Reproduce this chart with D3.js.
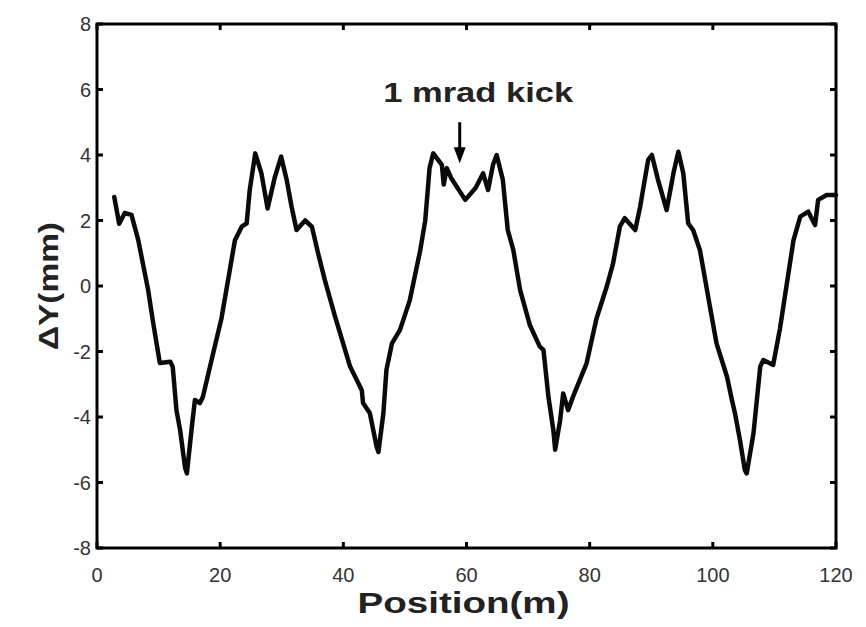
<!DOCTYPE html>
<html>
<head>
<meta charset="utf-8">
<script src="https://cdn.jsdelivr.net/npm/d3@7"></script>
<style>
  body { margin: 0; background: #fff; }
  svg { display: block; font-family: "Liberation Sans", Arial, sans-serif; }
</style>
</head>
<body>
<div id="chart"></div>
<script>
// orbit difference, position in m, dy in mm
const positions = [2.8, 3.6, 4.5, 5.6, 6.7, 8.3, 9.1, 10.2, 11.9, 12.3, 12.9, 13.5, 14.3, 14.6, 15.4, 15.9, 16.7, 17.2, 18.6, 20.2,
    22.4, 23.5, 24.3, 24.8, 25.7, 26.7, 27.7, 28.9, 29.9, 30.8, 31.6, 32.4, 33.8, 34.9, 35.9, 37.0, 38.6, 41.1, 43.0, 43.2,
    44.3, 45.4, 45.7, 46.5, 47.0, 47.9, 49.2, 50.8, 52.5, 53.3, 54.0, 54.6, 56.0, 56.3, 56.8, 57.5, 59.8, 61.5, 62.7, 63.5,
    64.3, 64.9, 65.9, 66.7, 67.6, 68.7, 70.3, 71.9, 72.5, 73.3, 74.1, 74.4, 75.2, 75.7, 76.5, 77.3, 79.5, 81.1, 82.8, 83.8,
    84.9, 85.7, 87.4, 88.2, 89.5, 90.1, 91.1, 92.5, 93.6, 94.4, 95.2, 96.0, 96.8, 97.9, 99.5, 100.6, 102.3, 103.1, 103.6, 104.4,
    105.2, 105.5, 106.6, 107.7, 108.2, 109.8, 110.9, 113.1, 114.2, 115.5, 116.6, 117.1, 118.5, 120];
const deltaY = [2.72, 1.9, 2.23, 2.17, 1.4, -0.12, -1.1, -2.35, -2.31, -2.47, -3.79, -4.4, -5.55, -5.72, -4.3, -3.48, -3.58, -3.38, -2.26, -1.0,
    1.4, 1.81, 1.91, 2.93, 4.05, 3.44, 2.37, 3.34, 3.95, 3.24, 2.42, 1.71, 2.0, 1.81, 1.0, 0.18, -0.9, -2.46, -3.18, -3.57,
    -3.88, -4.9, -5.07, -3.89, -2.56, -1.75, -1.34, -0.43, 1.1, 2.0, 3.6, 4.05, 3.7, 3.1, 3.6, 3.3, 2.63, 3.0, 3.44, 2.93,
    3.7, 4.0, 3.24, 1.71, 1.1, -0.12, -1.2, -1.85, -1.95, -3.38, -4.4, -5.0, -4.1, -3.28, -3.79, -3.38, -2.36, -1.0, 0, 0.69,
    1.81, 2.07, 1.71, 2.42, 3.85, 4.0, 3.24, 2.32, 3.44, 4.1, 3.44, 1.91, 1.71, 1.1, -0.6, -1.75, -2.77, -3.48, -3.89, -4.7,
    -5.62, -5.72, -4.5, -2.46, -2.26, -2.41, -1.3, 1.4, 2.12, 2.27, 1.86, 2.63, 2.78, 2.78];

const xTicks = [0, 20, 40, 60, 80, 100, 120];
const yTicks = [-8, -6, -4, -2, 0, 2, 4, 6, 8];

const xLabel = "Position(m)";
const yLabel = "\u0394Y(mm)";
const kickLabel = "1 mrad kick";
const kickAt = { x: 58.9, tip: 3.75, tail: 5.0, textX: 61.9, textY: 5.62 };

const width = 866, height = 627;
const svg = d3.select("#chart").append("svg").attr("width", width).attr("height", height);
const x = d3.scaleLinear().domain([0, 120]).range([97, 836]);
const y = d3.scaleLinear().domain([-8, 8]).range([548, 24]);

// frame
svg.append("rect")
    .attr("x", x(0)).attr("y", y(8))
    .attr("width", x(120) - x(0)).attr("height", y(-8) - y(8))
    .attr("fill", "none").attr("stroke", "#000").attr("stroke-width", 3);

// inward ticks on all four sides
const tickLen = 6;
svg.selectAll(".xb").data(xTicks).join("line").attr("class", "xb")
    .attr("x1", d => x(d)).attr("x2", d => x(d))
    .attr("y1", y(-8)).attr("y2", y(-8) - tickLen)
    .attr("stroke", "#000").attr("stroke-width", 3);
svg.selectAll(".xt").data(xTicks).join("line").attr("class", "xt")
    .attr("x1", d => x(d)).attr("x2", d => x(d))
    .attr("y1", y(8)).attr("y2", y(8) + tickLen)
    .attr("stroke", "#000").attr("stroke-width", 3);
svg.selectAll(".yl").data(yTicks).join("line").attr("class", "yl")
    .attr("x1", x(0)).attr("x2", x(0) + tickLen)
    .attr("y1", d => y(d)).attr("y2", d => y(d))
    .attr("stroke", "#000").attr("stroke-width", 3);
svg.selectAll(".yr").data(yTicks).join("line").attr("class", "yr")
    .attr("x1", x(120)).attr("x2", x(120) - tickLen)
    .attr("y1", d => y(d)).attr("y2", d => y(d))
    .attr("stroke", "#000").attr("stroke-width", 3);

// tick labels
svg.selectAll(".xlab").data(xTicks).join("text").attr("class", "xlab")
    .attr("x", d => x(d)).attr("y", y(-8) + 34)
    .attr("text-anchor", "middle")
    .attr("font-size", 20).attr("fill", "#333")
    .text(d => String(d));
svg.selectAll(".ylab").data(yTicks).join("text").attr("class", "ylab")
    .attr("x", x(0) - 6).attr("y", d => y(d) + 7)
    .attr("text-anchor", "end")
    .attr("font-size", 20).attr("fill", "#333")
    .text(d => String(d));

// orbit
svg.append("path")
    .datum(deltaY)
    .attr("fill", "none")
    .attr("stroke", "#0a0a0a")
    .attr("stroke-width", 4.5)
    .attr("stroke-linejoin", "round")
    .attr("stroke-linecap", "round")
    .attr("d", d3.line().x((d, i) => x(positions[i])).y(d => y(d)));

// annotation
svg.append("text")
    .attr("x", x(kickAt.textX))
    .attr("y", y(kickAt.textY))
    .attr("text-anchor", "middle")
    .attr("font-size", 28)
    .attr("font-weight", "bold")
    .attr("fill", "#222")
    .attr("textLength", 190)
    .attr("lengthAdjust", "spacingAndGlyphs")
    .text(kickLabel);

svg.append("line")
    .attr("x1", x(kickAt.x)).attr("x2", x(kickAt.x))
    .attr("y1", y(kickAt.tail)).attr("y2", y(kickAt.tip) - 12)
    .attr("stroke", "#000").attr("stroke-width", 3);

svg.append("path")
    .attr("d", `M${x(kickAt.x) - 6},${y(kickAt.tip) - 16} L${x(kickAt.x) + 6},${y(kickAt.tip) - 16} L${x(kickAt.x)},${y(kickAt.tip)} Z`)
    .attr("fill", "#000");

// axis titles
svg.append("text")
    .attr("x", (x(0) + x(120)) / 2 - 3)
    .attr("y", 613)
    .attr("text-anchor", "middle")
    .attr("font-size", 30)
    .attr("font-weight", "bold")
    .attr("fill", "#222")
    .attr("textLength", 212)
    .attr("lengthAdjust", "spacingAndGlyphs")
    .text(xLabel);

svg.append("text")
    .attr("transform", `translate(58,${y(0)}) rotate(-90)`)
    .attr("text-anchor", "middle")
    .attr("font-size", 27)
    .attr("font-weight", "bold")
    .attr("fill", "#222")
    .attr("textLength", 128)
    .attr("lengthAdjust", "spacingAndGlyphs")
    .text(yLabel);
</script>
</body>
</html>
